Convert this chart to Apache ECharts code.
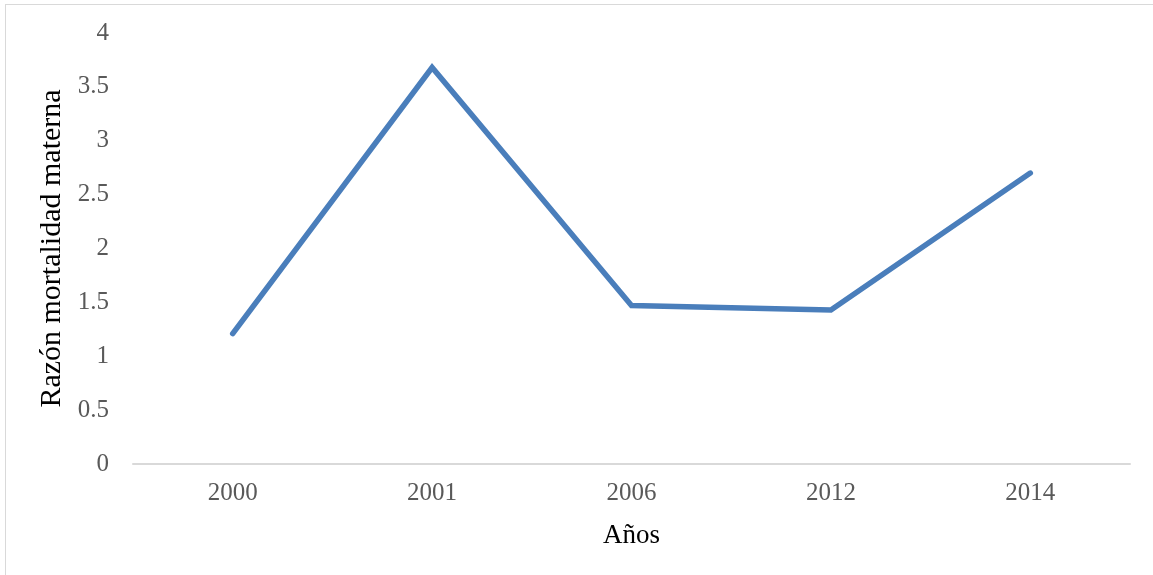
<!DOCTYPE html>
<html>
<head>
<meta charset="utf-8">
<script src="https://cdn.jsdelivr.net/npm/echarts@6/dist/echarts.min.js"></script>
<style>
    html, body { margin: 0; padding: 0; background: #fff; }
    #frame {
        position: absolute; left: 5px; top: 4px; width: 1148px; height: 571px;
        border-top: 1px solid #d9d9d9; border-left: 1px solid #d9d9d9;
        box-sizing: border-box;
    }
    #chartLine { width: 1153px; height: 575px; }
</style>
</head>
<body>
<div id="frame"></div>
<div id="chartLine"></div>
<script>
    // datos
    var years = ['2000', '2001', '2006', '2012', '2014'];
    var razon = [1.21, 3.68, 1.47, 1.43, 2.70];

    var fontFam = '"Liberation Serif", "DejaVu Serif", serif';

    var chartLine = echarts.init(document.getElementById('chartLine'));
    chartLine.setOption({
        animation: false,
        grid: {
            left: 133,
            right: 23,
            top: 33,
            bottom: 111
        },
        xAxis: {
            type: 'category',
            data: years,
            boundaryGap: true,
            name: 'Años',
            nameLocation: 'middle',
            nameGap: 58,
            nameTextStyle: { color: '#000', fontSize: 27, fontFamily: fontFam },
            axisLine: { lineStyle: { color: '#d9d9d9', width: 2 } },
            axisTick: { show: false },
            axisLabel: { color: '#595959', fontSize: 25, fontFamily: fontFam, margin: 17 }
        },
        yAxis: {
            type: 'value',
            min: 0,
            max: 4,
            interval: 0.5,
            name: 'Razón mortalidad materna',
            nameLocation: 'middle',
            nameGap: 62,
            nameTextStyle: { color: '#000', fontSize: 30, fontFamily: fontFam },
            axisLine: { show: false },
            axisTick: { show: false },
            splitLine: { show: false },
            axisLabel: { color: '#595959', fontSize: 25, fontFamily: fontFam, margin: 24 }
        },
        series: [
            {
                name: 'Razón',
                type: 'line',
                data: razon,
                symbol: 'none',
                lineStyle: { color: '#4a7ebb', width: 5.5, cap: 'round', join: 'miter' }
            }
        ]
    });
</script>
</body>
</html>
